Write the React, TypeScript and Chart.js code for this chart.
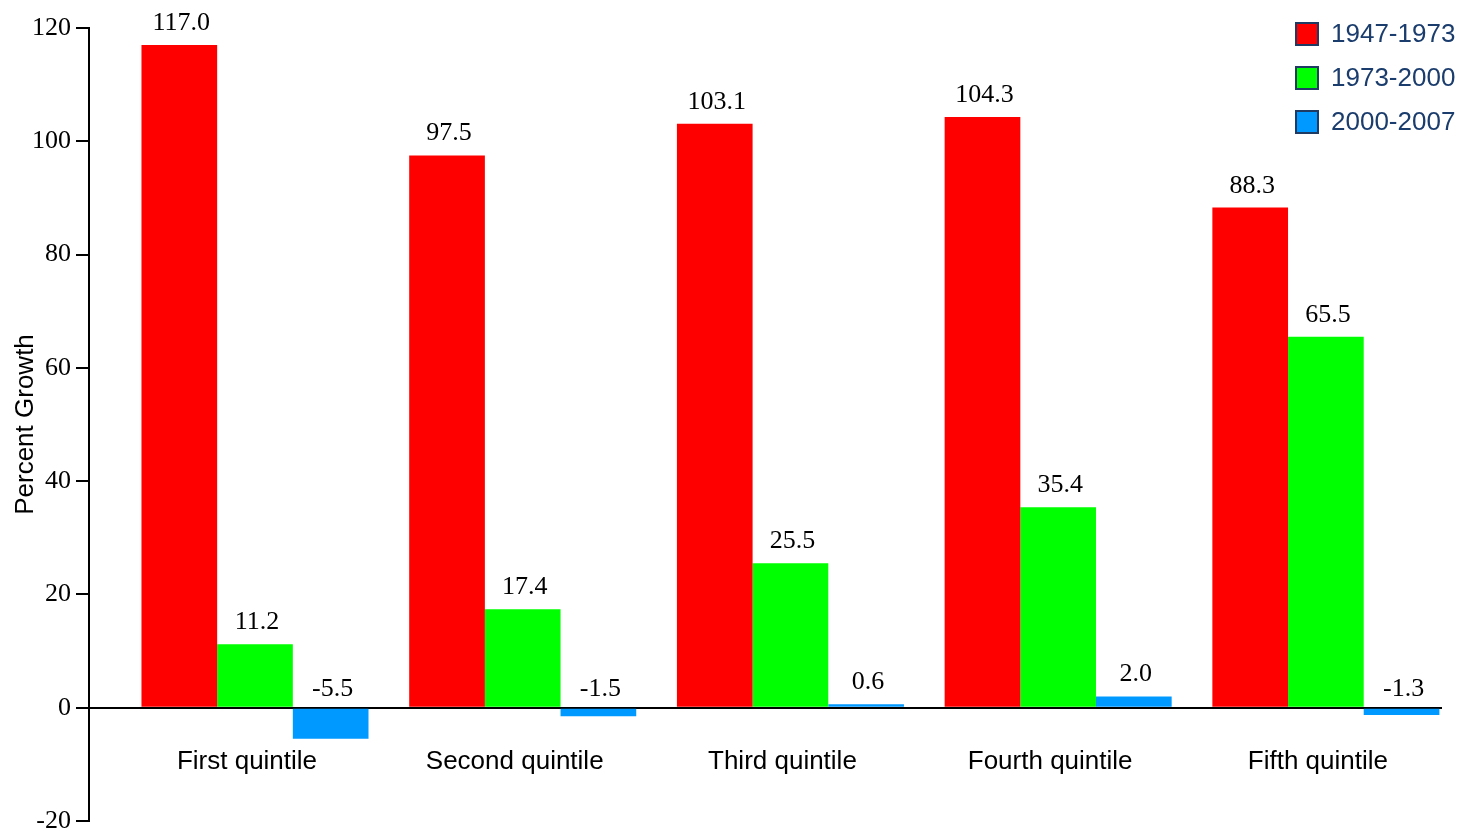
import { useEffect, useRef } from 'react';
import { Chart, registerables } from 'chart.js';

Chart.register(...registerables);

const CATEGORIES = ['First quintile', 'Second quintile', 'Third quintile', 'Fourth quintile', 'Fifth quintile'];
const SERIES_NAMES = ['1947-1973', '1973-2000', '2000-2007'];
const GROWTH_1947_1973 = [117.0, 97.5, 103.1, 104.3, 88.3];
const GROWTH_1973_2000 = [11.2, 17.4, 25.5, 35.4, 65.5];
const GROWTH_2000_2007 = [-5.5, -1.5, 0.6, 2.0, -1.3];
const SERIES_COLORS = ['#ff0000', '#00ff00', '#0099ff'];
const Y_TICKS = [-20, 0, 20, 40, 60, 80, 100, 120];

const SERIF = '"Liberation Serif", "Times New Roman", serif';
const SANS = '"Liberation Sans", Arial, sans-serif';

const valueLabels = {
  id: 'valueLabels',
  afterDatasetsDraw(chart: any) {
    const ctx = chart.ctx;
    ctx.save();
    ctx.font = `26px ${SERIF}`;
    ctx.fillStyle = '#000';
    ctx.textAlign = 'center';
    ctx.textBaseline = 'alphabetic';
    chart.data.datasets.forEach((ds: any, di: number) => {
      const meta = chart.getDatasetMeta(di);
      meta.data.forEach((el: any, i: number) => {
        const v = ds.data[i].y;
        const top = Math.min(el.y, el.base);
        const gap = v >= 0 ? 15 : 13;
        ctx.fillText(v.toFixed(1), el.x + 2, top - gap);
      });
    });
    ctx.restore();
  },
};

const sideLegend = {
  id: 'sideLegend',
  afterDraw(chart: any) {
    const ctx = chart.ctx;
    ctx.save();
    ctx.font = `26px ${SANS}`;
    ctx.textAlign = 'left';
    ctx.textBaseline = 'middle';
    chart.data.datasets.forEach((ds: any, i: number) => {
      const x = 1295;
      const y = 22 + i * 44;
      ctx.fillStyle = ds.backgroundColor;
      ctx.fillRect(x, y, 24, 24);
      ctx.strokeStyle = '#1f3a63';
      ctx.lineWidth = 2;
      ctx.strokeRect(x + 1, y + 1, 22, 22);
      ctx.fillStyle = '#1b3d6d';
      ctx.fillText(ds.label, 1331, y + 13);
    });
    ctx.restore();
  },
};

export default function App() {
  const ref = useRef<HTMLCanvasElement | null>(null);

  useEffect(() => {
    if (!ref.current) return;
    const seriesValues = [GROWTH_1947_1973, GROWTH_1973_2000, GROWTH_2000_2007];
    const chart = new Chart(ref.current, {
      type: 'bar',
      data: {
        datasets: seriesValues.map((vals, si) => ({
          label: SERIES_NAMES[si],
          data: vals.map((v, i) => ({ x: i, y: v })),
          backgroundColor: SERIES_COLORS[si],
          borderWidth: 0,
          categoryPercentage: 0.848,
          barPercentage: 1.0,
        })),
      },
      options: {
        animation: false,
        responsive: true,
        maintainAspectRatio: false,
        layout: { padding: { left: 0, top: 28, right: 29, bottom: 13 } },
        plugins: {
          legend: { display: false },
          tooltip: { enabled: false },
        },
        scales: {
          x: {
            type: 'linear',
            position: { y: 0 } as any,
            min: -0.62,
            max: 4.43,
            offset: false,
            z: 1,
            afterBuildTicks: (axis: any) => {
              axis.ticks = CATEGORIES.map((_, i) => ({ value: i }));
            },
            grid: { display: false, drawTicks: false, offset: false },
            border: { display: true, color: '#000', width: 2 },
            ticks: {
              autoSkip: false,
              maxRotation: 0,
              padding: 39,
              labelOffset: -8,
              color: '#000',
              font: { family: SANS, size: 26 },
              callback: (v: any) => CATEGORIES[v] ?? '',
            },
          },
          y: {
            type: 'linear',
            position: 'left',
            min: -20,
            max: 120,
            afterBuildTicks: (axis: any) => {
              axis.ticks = Y_TICKS.map((v) => ({ value: v }));
            },
            afterFit: (s: any) => {
              s.width = 89;
              s.paddingTop = 0;
              s.paddingBottom = 0;
            },
            grid: { drawOnChartArea: false, drawTicks: true, tickLength: 13, color: '#000', lineWidth: 2 },
            border: { display: true, color: '#000', width: 2 },
            ticks: {
              padding: 5,
              color: '#000',
              font: { family: SERIF, size: 26 },
            },
            title: {
              display: true,
              text: 'Percent Growth',
              color: '#000',
              font: { family: SANS, size: 26 },
              padding: { top: 10, bottom: 0 },
            },
          },
        },
      },
      plugins: [valueLabels, sideLegend],
    });
    return () => chart.destroy();
  }, []);

  return (
    <div style={{ position: 'fixed', left: 0, top: 0, width: 1470, height: 834, overflow: 'hidden', background: '#fff' }}>
      <canvas ref={ref} />
    </div>
  );
}
